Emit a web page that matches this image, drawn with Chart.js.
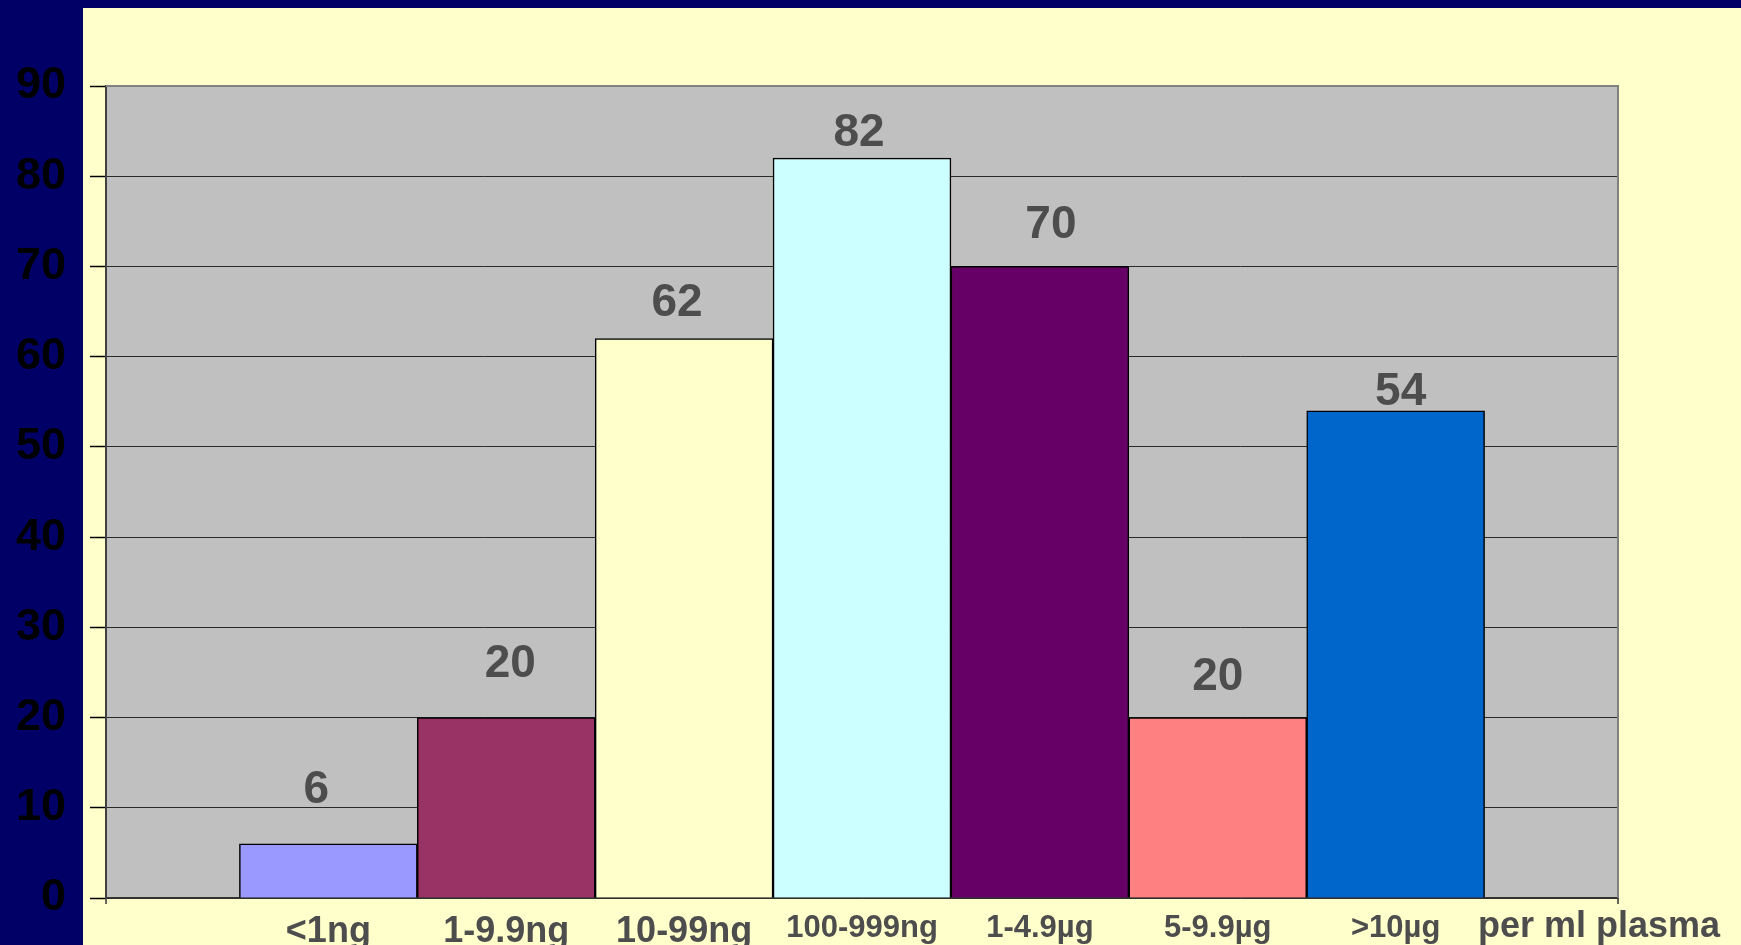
<!DOCTYPE html>
<html>
<head>
<meta charset="utf-8">
<script src="https://cdn.jsdelivr.net/npm/chart.js@4/dist/chart.umd.min.js"></script>
<style>
  html, body { margin: 0; padding: 0; background: #000066; overflow: hidden; }
  #wrap { width: 1741px; height: 945px; }
</style>
</head>
<body>
<div id="wrap"><canvas id="c" width="1741" height="945"></canvas></div>
<script>
// Plasma concentration classes and number of samples in each
const categories = ['<1ng', '1-9.9ng', '10-99ng', '100-999ng', '1-4.9µg', '5-9.9µg', '>10µg'];
const counts = [6, 20, 62, 82, 70, 20, 54];
const unitLabel = 'per ml plasma';
const yTicks = [0, 10, 20, 30, 40, 50, 60, 70, 80, 90];

// Styling
const barColors = ['#9999FF', '#993366', '#FFFFCC', '#CCFFFF', '#660066', '#FF8080', '#0066CC'];
const valueLabelShift = [[-12, 41], [4, 41], [-7, 23], [-3, 12], [11, 28], [0, 28], [5, 6]];
const FONT = '"Liberation Sans", Arial, Helvetica, sans-serif';
const LABEL_COLOR = '#4d4d4d';

const frame = {
  id: 'frame',
  beforeDraw(chart) {
    const { ctx, chartArea: a } = chart;
    ctx.save();
    ctx.fillStyle = '#000066';
    ctx.fillRect(0, 0, chart.width, chart.height);
    ctx.fillStyle = '#FFFFCC';
    ctx.fillRect(83, 8, chart.width - 83, chart.height - 8);
    ctx.fillStyle = '#C0C0C0';
    ctx.fillRect(a.left, a.top, a.right - a.left, a.bottom - a.top);
    ctx.restore();
  },
  afterDatasetsDraw(chart) {
    const { ctx, chartArea: a } = chart;
    ctx.save();
    // plot frame: grey top and right edges
    ctx.strokeStyle = '#808080';
    ctx.lineWidth = 2;
    ctx.beginPath();
    ctx.moveTo(a.left, a.top);
    ctx.lineTo(a.right, a.top);
    ctx.lineTo(a.right, a.bottom);
    ctx.stroke();
    // small end ticks under the category axis
    ctx.strokeStyle = '#333';
    ctx.lineWidth = 1.5;
    ctx.beginPath();
    ctx.moveTo(a.left, a.bottom);
    ctx.lineTo(a.left, a.bottom + 6);
    ctx.moveTo(a.right, a.bottom);
    ctx.lineTo(a.right, a.bottom + 6);
    ctx.stroke();

    // value labels above bars
    const meta = chart.getDatasetMeta(0);
    ctx.fillStyle = LABEL_COLOR;
    ctx.font = 'bold 46px ' + FONT;
    ctx.textAlign = 'center';
    ctx.textBaseline = 'alphabetic';
    meta.data.forEach((bar, i) => {
      const [dx, gap] = valueLabelShift[i];
      ctx.fillText(String(counts[i]), bar.x + dx, bar.y - gap);
    });

    // unit caption at the end of the category axis
    ctx.font = 'bold 36px ' + FONT;
    ctx.fillText(unitLabel, a.right - 19, a.bottom + 39);
    ctx.restore();
  }
};

new Chart(document.getElementById('c'), {
  type: 'bar',
  data: {
    datasets: [{
      data: counts.map((v, i) => ({ x: i, y: v })),
      backgroundColor: barColors,
      borderColor: '#000000',
      borderWidth: 1.5,
      categoryPercentage: 1.0,
      barPercentage: 1.0
    }]
  },
  options: {
    responsive: false,
    animation: false,
    devicePixelRatio: 1,
    layout: { padding: { top: 86, right: 123, left: 0, bottom: 0 } },
    plugins: { legend: { display: false }, tooltip: { enabled: false }, title: { display: false } },
    scales: {
      x: {
        type: 'linear',
        offset: false,
        min: -1.25,
        max: 7.25,
        afterBuildTicks(scale) {
          scale.ticks = categories.map((_, i) => ({ value: i }));
        },
        afterFit(scale) { scale.height = 47; },
        grid: { display: false },
        border: { display: true, color: '#333', width: 1.5 },
        ticks: {
          autoSkip: false,
          maxRotation: 0,
          minRotation: 0,
          padding: 4,
          color: LABEL_COLOR,
          font: (ctx) => ({ family: FONT, weight: 'bold', size: ctx.index < 3 ? 36 : 31 }),
          callback: (v) => categories[v]
        }
      },
      y: {
        min: 0,
        max: 90,
        afterBuildTicks(scale) {
          scale.ticks = yTicks.map(v => ({ value: v }));
        },
        afterFit(scale) {
          scale.width = 106;
          scale.paddingTop = 0;
          scale.paddingBottom = 0;
        },
        grid: { color: '#2a2a2a', lineWidth: 1, tickLength: 16, tickColor: '#000', tickWidth: 1.5 },
        border: { display: true, color: '#404040', width: 2 },
        ticks: {
          padding: 24,
          color: '#000000',
          font: { family: FONT, weight: 'bold', size: 45 }
        }
      }
    }
  },
  plugins: [frame]
});
</script>
</body>
</html>
